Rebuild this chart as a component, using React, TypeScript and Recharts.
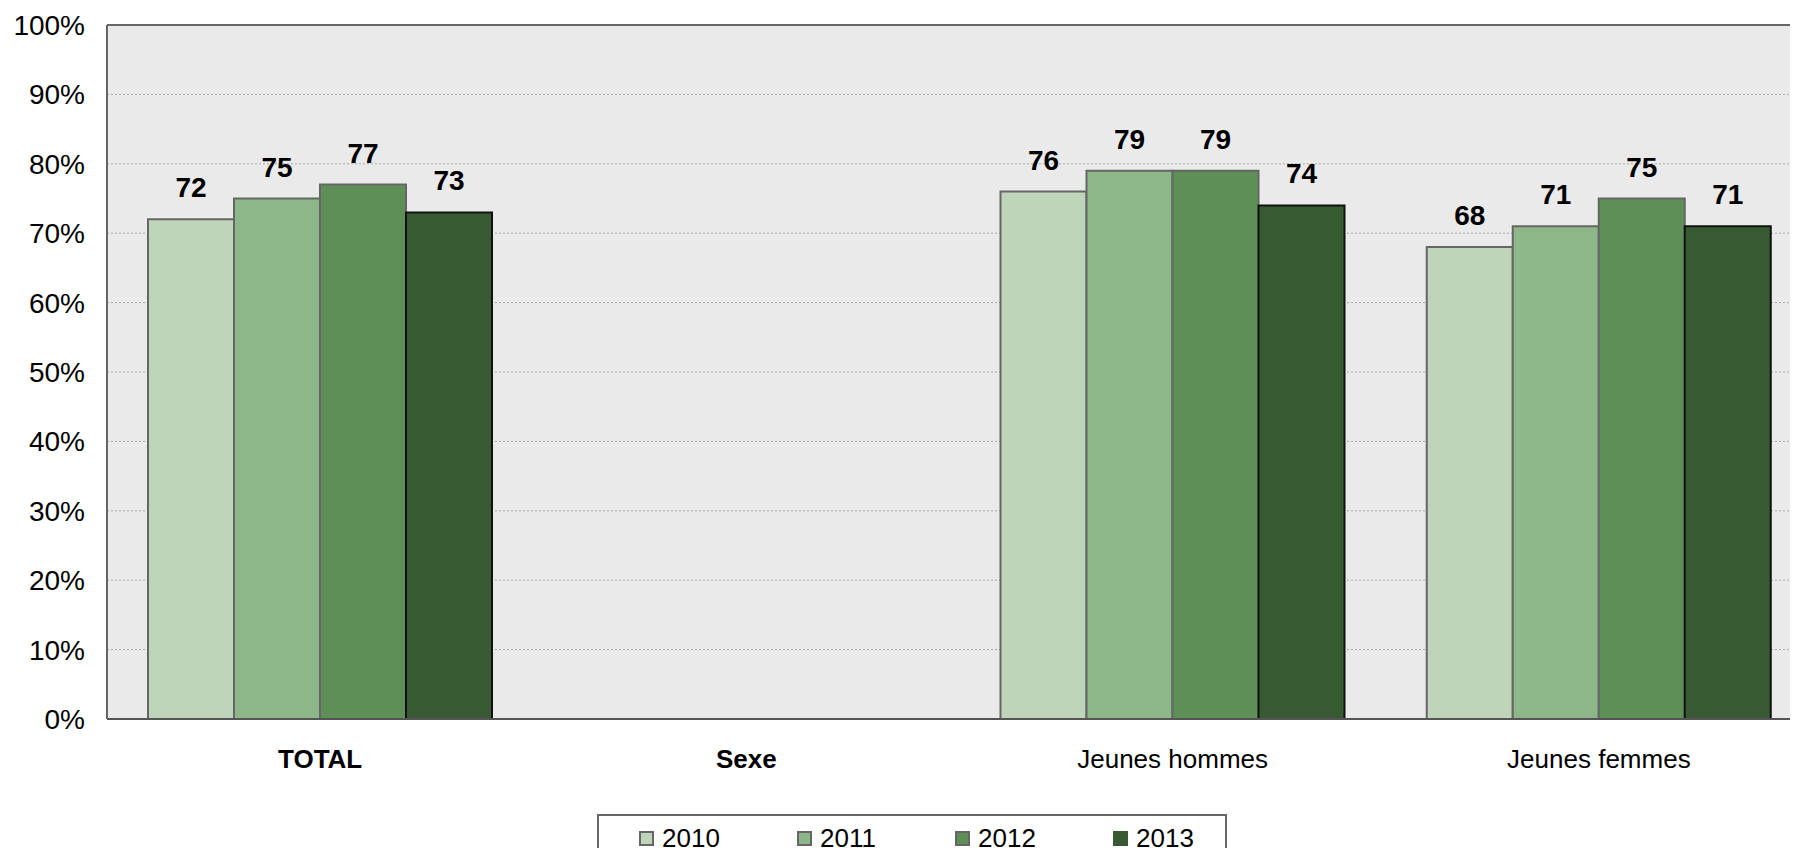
import { BarChart, Bar, XAxis, YAxis, CartesianGrid, ReferenceLine, LabelList } from 'recharts'

const categories = ['TOTAL', 'Sexe', 'Jeunes hommes', 'Jeunes femmes']
const boldCategories = ['TOTAL', 'Sexe']
const years = ['2010', '2011', '2012', '2013']
const values2010 = [72, null, 76, 68]
const values2011 = [75, null, 79, 71]
const values2012 = [77, null, 79, 75]
const values2013 = [73, null, 74, 71]
const yTicks = [0, 10, 20, 30, 40, 50, 60, 70, 80, 90, 100]

const colors = ['#BED5B9', '#8DB788', '#5E8F57', '#385A33']
const strokes = ['#666666', '#666666', '#666666', '#111111']
const seriesValues = [values2010, values2011, values2012, values2013]

const data = categories.map((cat, i) => {
  const row: Record<string, string | number | null> = { name: cat }
  years.forEach((y, k) => { row[y] = seriesValues[k][i] })
  return row
})

const font = 'Arial, "Liberation Sans", sans-serif'

function CategoryTick(props: any) {
  const { x, y, payload } = props
  const bold = boldCategories.includes(payload.value)
  return (
    <text x={x} y={y} dy={18} textAnchor="middle" fontSize={26} fontFamily={font}
      fontWeight={bold ? 700 : 400} fill="#000">
      {payload.value}
    </text>
  )
}

export default function App() {
  return (
    <div style={{ margin: -8, width: 1798, height: 856, overflow: 'hidden', position: 'relative', background: '#fff' }}>
      <BarChart width={1812} height={856} data={data}
        margin={{ top: 25, right: 0, left: 0, bottom: 0 }}
        barCategoryGap={41} barGap={0}>
        <CartesianGrid vertical={false} fill="#EAEAEA" stroke="#A8A8A8" strokeDasharray="2 2" />
        <XAxis dataKey="name" height={137} tickLine={false} tickSize={0} tickMargin={31}
          axisLine={{ stroke: '#555', strokeWidth: 2 }} tick={<CategoryTick />} interval={0} />
        <YAxis width={107} domain={[0, 100]} ticks={yTicks} tickLine={false} tickSize={0} tickMargin={22}
          axisLine={{ stroke: '#666', strokeWidth: 2 }}
          tick={{ fontSize: 28, fontFamily: font, fill: '#000' }}
          tickFormatter={(v: number) => `${v}%`} />
        <ReferenceLine y={100} stroke="#666" strokeWidth={2} />
        {years.map((y, k) => (
          <Bar key={y} dataKey={y} fill={colors[k]} stroke={strokes[k]} strokeWidth={2} isAnimationActive={false}>
            <LabelList dataKey={y} position="top" offset={22}
              style={{ fontSize: 28, fontWeight: 700, fontFamily: font, fill: '#000' }} />
          </Bar>
        ))}
      </BarChart>
      <div style={{
        position: 'absolute', left: 597, top: 814, width: 630, height: 60, boxSizing: 'border-box',
        border: '2px solid #666', background: '#fff', fontFamily: font, fontSize: 26, lineHeight: '30px',
      }}>
        {years.map((y, k) => (
          <div key={y} style={{ position: 'absolute', left: 40 + k * 158, top: 7, display: 'flex', alignItems: 'center', gap: 8 }}>
            <span style={{
              width: 15, height: 15, boxSizing: 'border-box', background: colors[k],
              border: `2px solid ${k === 3 ? colors[k] : '#666'}`, display: 'inline-block',
            }} />
            <span>{y}</span>
          </div>
        ))}
      </div>
    </div>
  )
}
